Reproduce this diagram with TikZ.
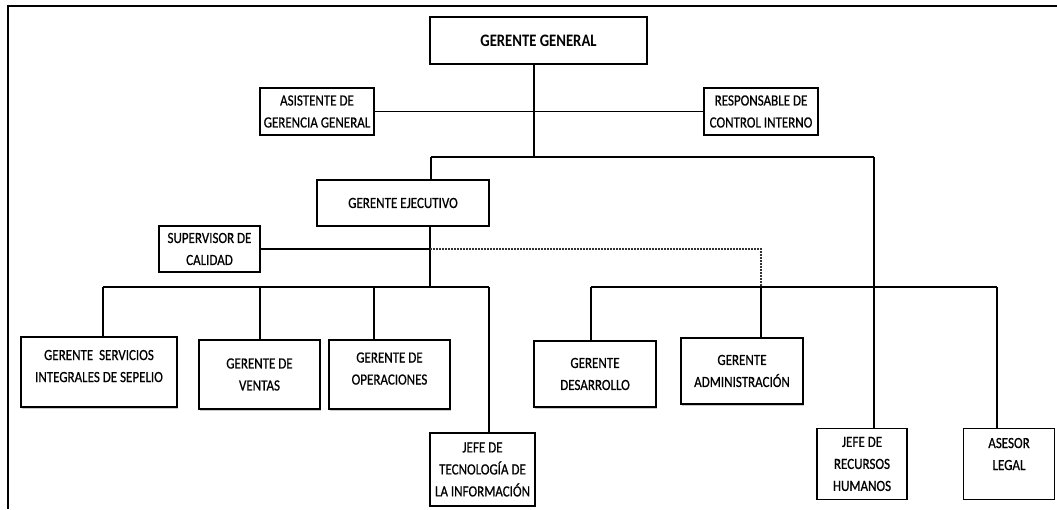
\documentclass[tikz,border=0pt]{standalone}
\usepackage{fontspec}
\setmainfont{Carlito}[FakeStretch=0.84]
\newfontfamily\boxfont{Carlito}[FakeStretch=0.84, FakeBold=0.6]
\usetikzlibrary{shadows}
\begin{document}
\begin{tikzpicture}[x=1pt,y=-1pt,
  box/.style={draw=black, line width=1.2pt, align=center, inner sep=0pt,
    font=\boxfont\fontsize{15.5}{22}\selectfont, text=black, fill=white},
  sbox/.style={box, drop shadow={shadow xshift=1.2pt, shadow yshift=-1.8pt, opacity=0.35, fill=black!60}},
  conn/.style={line width=1.2pt, draw=black},
  dots/.style={line width=1.2pt, draw=black!80, dash pattern=on 1.8pt off 1.2pt},
  frame/.style={line width=2pt, draw=black}]
\useasboundingbox (0,0) rectangle (1057,509);
\draw[frame] (8,509) -- (8,6) -- (1057,6);

% boxes
\node[box, line width=2.6pt, minimum width=217pt, minimum height=47pt,
  font=\bfseries\fontsize{17.5}{22}\selectfont] (gg) at (538.5,40.5) {GERENTE GENERAL};
\node[box, minimum width=114pt, minimum height=47pt] (asis) at (317,111.5) {ASISTENTE DE\\GERENCIA GENERAL};
\node[box, minimum width=114pt, minimum height=47pt] (resp) at (761,111.5) {RESPONSABLE DE\\CONTROL INTERNO};
\node[box, minimum width=172pt, minimum height=46pt] (ge) at (403,203) {GERENTE EJECUTIVO};
\node[box, minimum width=101pt, minimum height=46pt] (sup) at (209.5,249) {SUPERVISOR DE\\CALIDAD};
\node[sbox, minimum width=156pt, minimum height=70pt] (serv) at (99,372) {GERENTE \ SERVICIOS\\INTEGRALES DE SEPELIO\\[-10pt]\mbox{}};
\node[sbox, minimum width=121pt, minimum height=69pt] (vent) at (259.5,374.5) {GERENTE DE\\VENTAS};
\node[sbox, minimum width=121pt, minimum height=69pt] (oper) at (389.5,374.5) {GERENTE DE\\OPERACIONES\\[-10pt]\mbox{}};
\node[box, minimum width=105pt, minimum height=73pt] (tec) at (482.5,469.5) {JEFE DE\\TECNOLOGÍA DE\\LA INFORMACIÓN};
\node[sbox, minimum width=122pt, minimum height=66pt] (desa) at (595,374) {GERENTE\\DESARROLLO};
\node[sbox, minimum width=122pt, minimum height=66pt] (admin) at (742,371) {GERENTE\\ADMINISTRACIÓN};
\node[box, minimum width=90pt, minimum height=70.5pt] (rrhh) at (862,464) {JEFE DE\\RECURSOS\\HUMANOS};
\node[box, minimum width=90.5pt, minimum height=70.5pt] (ases) at (1009,464) {ASESOR\\LEGAL\\[-2pt]\mbox{}};

% junctions
\coordinate (j1) at (534,157);
\coordinate (jl) at (431,157);
\coordinate (jr) at (874,157);
\coordinate (k) at (430,287);
\coordinate (ks) at (430,249);
\coordinate (dv) at (761,249);
\coordinate (bl1) at (103,287);
\coordinate (bl2) at (260,287);
\coordinate (bl3) at (374,287);
\coordinate (bl4) at (489,287);
\coordinate (br1) at (591,287);
\coordinate (br2) at (761,287);
\coordinate (br3) at (997,287);

% connectors
\draw[conn] (gg.south -| j1) -- (j1);
\draw[conn] (asis.east) -- (resp.west);
\draw[conn] (jl) -- (jr);
\draw[conn] (jl) -- (jl |- ge.north);
\draw[conn] (jr) -- (jr |- rrhh.north);
\draw[conn] (ge.south -| k) -- (k);
\draw[conn] (sup.east) -- (ks);
\draw[dots] (ks) -- (dv) -- (br2);
\draw[conn] (bl1) -- (bl4);
\draw[conn] (bl1) -- (bl1 |- serv.north);
\draw[conn] (bl2) -- (bl2 |- vent.north);
\draw[conn] (bl3) -- (bl3 |- oper.north);
\draw[conn] (bl4) -- (bl4 |- tec.north);
\draw[conn] (br1) -- (br3);
\draw[conn] (br1) -- (br1 |- desa.north);
\draw[conn] (br2) -- (br2 |- admin.north);
\draw[conn] (br3) -- (br3 |- ases.north);
\end{tikzpicture}
\end{document}
